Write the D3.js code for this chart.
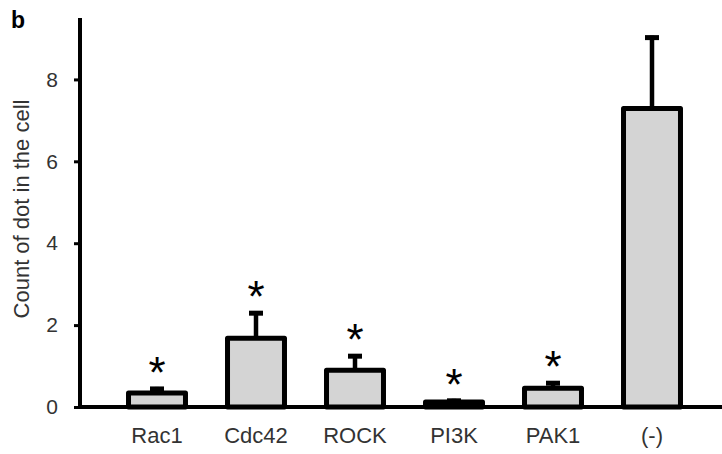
<!DOCTYPE html>
<html>
<head>
<meta charset="utf-8">
<script src="https://cdn.jsdelivr.net/npm/d3@7"></script>
<style>
  body { margin: 0; background: #fff; }
  svg { display: block; font-family: "Liberation Sans", Arial, sans-serif; }
</style>
</head>
<body>
<svg id="chart" viewBox="0 0 722 454" width="722" height="454"></svg>
<script>
// data
const categories = ["Rac1", "Cdc42", "ROCK", "PI3K", "PAK1", "(-)"];
const means = [0.34, 1.68, 0.9, 0.12, 0.46, 7.29];
const errors = [0.15, 0.66, 0.39, 0.08, 0.17, 1.78];
const significant = [true, true, true, true, true, false];
const yTicks = [0, 2, 4, 6, 8];

const svg = d3.select("#chart");
const width = 722;
const height = 454;

const baseY = 407;
const axisX = 80;

const y = d3.scaleLinear().domain([0, 9.5]).range([baseY, 18]);
const x = d3.scaleBand()
  .domain(categories)
  .range([107.5, 701.5])
  .paddingInner(0.374)
  .paddingOuter(0.187);

const rows = categories.map((c, i) => ({
  name: c, mean: means[i], err: errors[i], star: significant[i]
}));

// bars
svg.append("g")
  .selectAll("rect")
  .data(rows)
  .enter()
  .append("rect")
  .attr("x", (d) => x(d.name) + 2.5)
  .attr("width", x.bandwidth() - 5)
  .attr("y", (d) => y(d.mean))
  .attr("height", (d) => baseY - y(d.mean))
  .attr("fill", "#d4d4d4")
  .attr("stroke", "#000")
  .attr("stroke-width", 5)
  .attr("stroke-linejoin", "round");

// error bars (upper only)
const err = svg.append("g").attr("stroke", "#000");
err.selectAll(".stem")
  .data(rows)
  .enter()
  .append("line")
  .attr("x1", (d) => x(d.name) + x.bandwidth() / 2)
  .attr("x2", (d) => x(d.name) + x.bandwidth() / 2)
  .attr("y1", (d) => y(d.mean))
  .attr("y2", (d) => y(d.mean + d.err))
  .attr("stroke-width", 4.5);
err.selectAll(".cap")
  .data(rows)
  .enter()
  .append("line")
  .attr("x1", (d) => x(d.name) + x.bandwidth() / 2 - 7)
  .attr("x2", (d) => x(d.name) + x.bandwidth() / 2 + 7)
  .attr("y1", (d) => y(d.mean + d.err) + 2)
  .attr("y2", (d) => y(d.mean + d.err) + 2)
  .attr("stroke-width", 5);

// asterisks
svg.append("g")
  .selectAll("text")
  .data(rows.filter((d) => d.star))
  .enter()
  .append("text")
  .attr("x", (d) => x(d.name) + x.bandwidth() / 2)
  .attr("y", (d) => y(d.mean + d.err) + 1)
  .attr("text-anchor", "middle")
  .attr("font-size", 44)
  .attr("fill", "#000")
  .text("*");

// y axis
const yAxis = d3.axisLeft(y).tickValues(yTicks).tickSize(6).tickSizeOuter(0).tickPadding(16);
const gy = svg.append("g")
  .attr("transform", `translate(${axisX},0)`)
  .call(yAxis);
gy.select(".domain").remove();
gy.selectAll(".tick line").attr("stroke", "#000").attr("stroke-width", 3);
gy.selectAll(".tick text").attr("font-size", 21).attr("fill", "#333")
  .attr("font-family", "Liberation Sans, Arial, sans-serif");
svg.append("line")
  .attr("x1", axisX).attr("x2", axisX)
  .attr("y1", 18).attr("y2", baseY + 2)
  .attr("stroke", "#000").attr("stroke-width", 4);

// x axis baseline
svg.append("line")
  .attr("x1", axisX - 2).attr("x2", width)
  .attr("y1", baseY).attr("y2", baseY)
  .attr("stroke", "#000").attr("stroke-width", 4);

const gx = svg.append("g")
  .attr("transform", `translate(0,${baseY})`)
  .call(d3.axisBottom(x).tickSize(0).tickPadding(20));
gx.select(".domain").remove();
gx.selectAll(".tick text").attr("font-size", 22).attr("fill", "#333")
  .attr("font-family", "Liberation Sans, Arial, sans-serif");

// y title
svg.append("text")
  .attr("transform", `translate(29,${209}) rotate(-90)`)
  .attr("text-anchor", "middle")
  .attr("font-size", 22)
  .attr("fill", "#333")
  .text("Count of dot in the cell");

// panel letter
svg.append("text")
  .attr("x", 11).attr("y", 28)
  .attr("font-size", 23)
  .attr("font-weight", "bold")
  .attr("fill", "#000")
  .text("b");
</script>
</body>
</html>
